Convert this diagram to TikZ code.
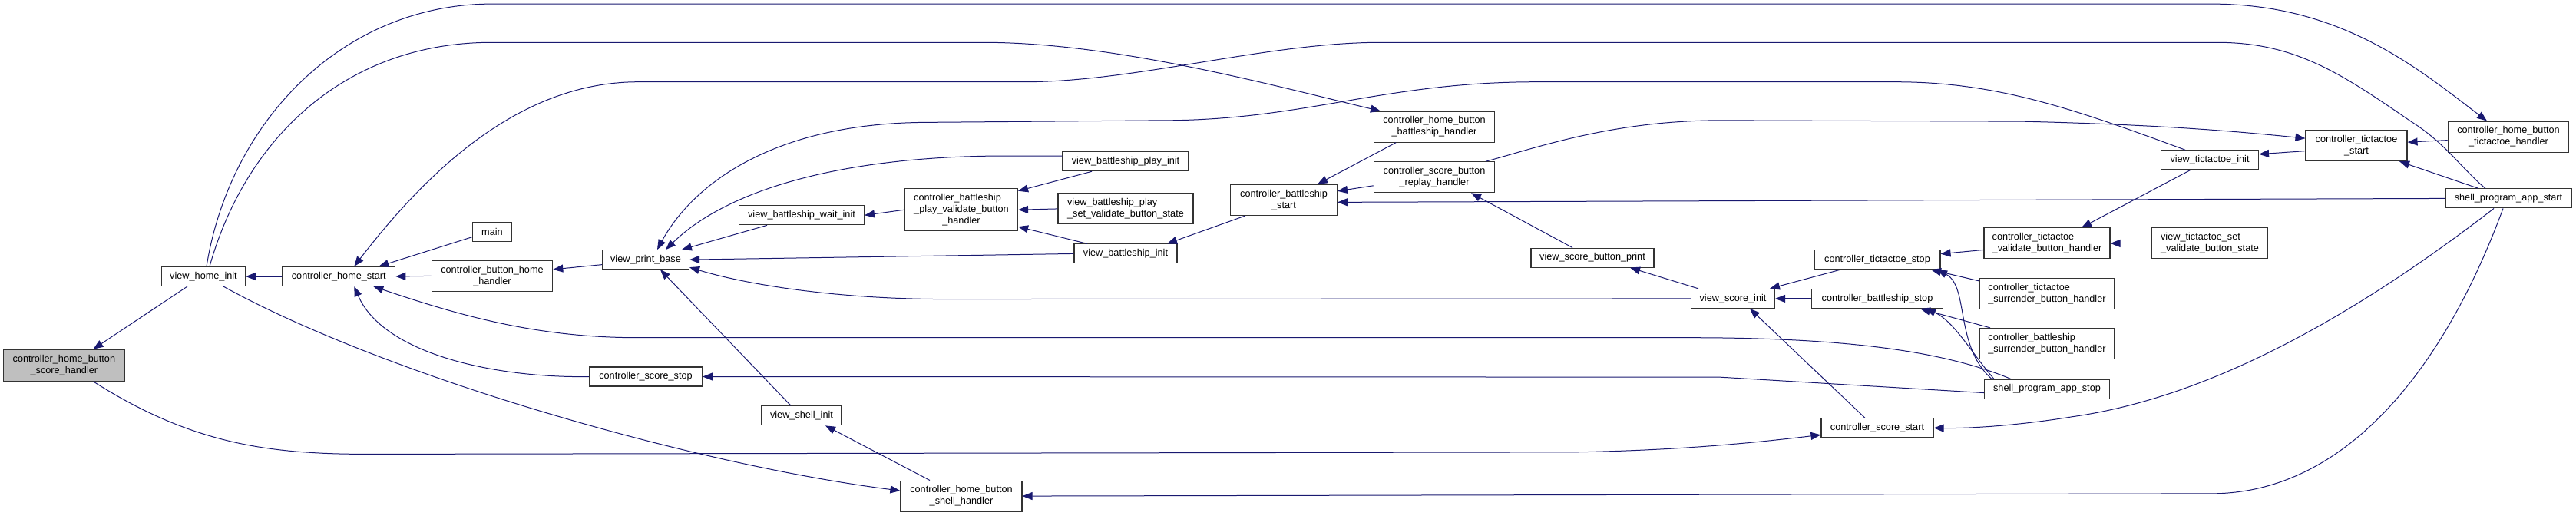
\documentclass[tikz,border=0pt]{standalone}
\usepackage{fontspec}
\setmainfont{Liberation Sans}
\usetikzlibrary{arrows.meta}
\definecolor{edgec}{HTML}{191970}
\definecolor{focal}{HTML}{BFBFBF}
\tikzset{
 nd/.style={draw=black!80, line width=1.1pt, fill=white, inner sep=0pt, minimum height=25pt, align=center, font=\fontsize{12.7}{15}\selectfont},
 nd2/.style={nd, minimum height=40pt},
 nd3/.style={nd, minimum height=55pt},
 ed/.style={draw=edgec, line width=1pt, -{Triangle[length=13pt,width=10pt]}},
}
\begin{document}
\begin{tikzpicture}[x=1pt,y=-1.285714pt]
\path[use as bounding box] (0,0) rectangle (3355,522.667);
% nodes
\node[nd, fill=focal, minimum width=158pt, minimum height=41pt] (sh) at (83.4,370) {controller\_home\_button\\\_score\_handler};
\node[nd, minimum width=109pt] (vhi) at (265,280) {view\_home\_init};
\node[nd, minimum width=147pt] (chs) at (441.3,280) {controller\_home\_start};
\node[nd, minimum width=51pt] (main) at (641,235) {main};
\node[nd2, minimum width=157.5pt] (cbhh) at (641,279.5) {controller\_button\_home\\\_handler};
\node[nd, minimum width=113pt] (vpb) at (841,263) {view\_print\_base};
\node[nd, minimum width=163pt] (vbwi) at (1044,218) {view\_battleship\_wait\_init};
\node[nd, minimum width=147pt] (css) at (841,381.5) {controller\_score\_stop};
\node[nd, minimum width=104pt] (vsi) at (1044,421) {view\_shell\_init};
\node[nd, minimum width=164pt] (vbpi) at (1466,163.5) {view\_battleship\_play\_init};
\node[nd3, minimum width=147pt] (cbpvbh) at (1252,212.5) {\begin{tabular}{@{}l@{}}controller\_battleship\\\_play\_validate\_button\\\multicolumn{1}{@{}c@{}}{\_handler}\end{tabular}};
\node[nd2, minimum width=176pt, align=left] (vbpsvbs) at (1466,211.5) {view\_battleship\_play\\\_set\_validate\_button\_state};
\node[nd, minimum width=134pt] (vbi) at (1466,257) {view\_battleship\_init};
\node[nd2, minimum width=139pt] (cbs) at (1672,202.5) {controller\_battleship\\\_start};
\node[nd2, minimum width=158pt] (chbsh) at (1252,502.5) {controller\_home\_button\\\_shell\_handler};
\node[nd2, minimum width=157.5pt] (chbbh) at (1868,128.5) {controller\_home\_button\\\_battleship\_handler};
\node[nd2, minimum width=157.5pt] (csbrh) at (1868,179.5) {controller\_score\_button\\\_replay\_handler};
\node[nd, minimum width=160pt] (vsbp) at (2074,261) {view\_score\_button\_print};
\node[nd, minimum width=109pt] (vsci) at (2257,302.5) {view\_score\_init};
\node[nd, minimum width=164pt] (cts) at (2445,263) {controller\_tictactoe\_stop};
\node[nd, minimum width=171pt] (cbst) at (2445,302.5) {controller\_battleship\_stop};
\node[nd2, minimum width=164pt, align=left] (ctvbh) at (2666,246.5) {controller\_tictactoe\\\_validate\_button\_handler};
\node[nd2, minimum width=175pt, align=left] (ctsbh) at (2666,297.5) {controller\_tictactoe\\\_surrender\_button\_handler};
\node[nd2, minimum width=175pt, align=left] (cbsbh) at (2666,348) {controller\_battleship\\\_surrender\_button\_handler};
\node[nd, minimum width=163pt] (spas) at (2666,394) {shell\_program\_app\_stop};
\node[nd, minimum width=146pt] (cscst) at (2445,433.5) {controller\_score\_start};
\node[nd2, minimum width=157.5pt] (chbth) at (3267,138.5) {controller\_home\_button\\\_tictactoe\_handler};
\node[nd2, minimum width=132pt] (ctst) at (3069,147.5) {controller\_tictactoe\\\_start};
\node[nd, minimum width=127pt] (vti) at (2878,162) {view\_tictactoe\_init};
\node[nd, minimum width=164pt] (spast) at (3267,201) {shell\_program\_app\_start};
\node[nd2, minimum width=151pt, align=left] (vtsvbs) at (2878,246.5) {view\_tictactoe\_set\\\_validate\_button\_state};
% edges
\draw[ed] ([xshift=-21pt]vhi.south) -- ([xshift=38pt]sh.north);
\draw[ed] (chs.west) -- (vhi.east);
\draw[ed] ([xshift=-30pt]spast.north) .. controls (3205,170) and (3185,145) .. (3140,123) .. controls (3050,75) and (2990,43) .. (2888,43) -- (1798,43) .. controls (1650,43) and (1480,83) .. (1334,83) -- (831,83) .. controls (680,83) and (560,170) .. ([xshift=20pt]chs.north);
\draw[ed] ([xshift=4pt]vhi.north) .. controls (300,120) and (450,4) .. (640,4) -- (2881,4) .. controls (3050,4) and (3150,70) .. ([xshift=-28pt]chbth.north);
\draw[ed] ([xshift=8pt]vhi.north) .. controls (320,140) and (450,43) .. (640,43) -- (1281,43) .. controls (1450,43) and (1650,85) .. ([xshift=-70pt]chbbh.north);
\draw[ed] ([xshift=-32pt]vti.north) .. controls (2700,110) and (2600,83) .. (2469,83) -- (2001,83) .. controls (1800,83) and (1700,122) .. (1513,122) -- (1200,124) .. controls (1000,126) and (900,190) .. ([xshift=15pt]vpb.north);
\draw[ed] ([xshift=67pt]csbrh.north) .. controls (2000,150) and (2100,122) .. (2240,122) -- (2633,123) .. controls (2800,126) and (2900,132) .. ([yshift=9.5pt]ctst.west);
\draw[ed] ([yshift=7pt]vbpi.west) -- (1290,158) .. controls (1100,160) and (950,190) .. ([xshift=26pt]vpb.north);
\draw[ed] ([xshift=-45pt]vbwi.south) -- ([xshift=47pt]vpb.north);
\draw[ed] (vbi.west) -- (vpb.east);
\draw[ed] (vsci.west) -- (1230,303) .. controls (1100,303) and (980,290) .. ([yshift=-10pt]vpb.east);
\draw[ed] ([xshift=-14pt]vsi.north) -- ([xshift=19pt]vpb.south);
\draw[ed] ([yshift=-6.5pt]vpb.west) -- ([yshift=8.5pt]cbhh.east);
\draw[ed] (cbhh.west) -- (chs.east);
\draw[ed] ([yshift=-6.5pt]main.west) -- ([xshift=52pt]chs.north);
\draw[ed] ([xshift=-47pt]spas.north) .. controls (2530,355) and (2400,342) .. (2200,342) -- (830,342) .. controls (700,342) and (600,320) .. ([xshift=45pt]chs.south);
\draw[ed] (css.west) .. controls (650,383) and (500,360) .. ([xshift=20pt]chs.south);
\draw[ed] ([yshift=-5pt]spas.west) -- (2240,382) -- (css.east);
\draw[ed] ([xshift=26pt]vhi.south) .. controls (500,380) and (900,470) .. ([yshift=7pt]chbsh.west);
\draw[ed] ([xshift=38pt]sh.south) .. controls (250,450) and (350,460) .. (480,460) -- (2050,458) .. controls (2200,456) and (2300,447) .. ([yshift=-9pt]cscst.west);
\draw[ed] ([xshift=-41pt]chbsh.north) -- ([xshift=31pt]vsi.south);
\draw[ed] ([xshift=-7pt]spast.south) .. controls (3180,380) and (3050,500) .. (2880,500) -- (chbsh.east);
\draw[ed] ([xshift=-19pt]spast.south) .. controls (3100,300) and (2900,400) .. (2700,422) .. controls (2620,432) and (2560,434) .. (cscst.east);
\draw[ed] (spast.west) -- ([yshift=-3pt]cbs.east);
\draw[ed] ([yshift=-11pt]csbrh.west) -- ([yshift=11.5pt]cbs.east);
\draw[ed] ([xshift=-50pt]chbbh.south) -- ([xshift=44pt]cbs.north);
\draw[ed] ([xshift=-50pt]cbs.south) -- ([xshift=54pt]vbi.north);
\draw[ed] ([xshift=-44pt]vbpi.south) -- ([yshift=24.5pt]cbpvbh.east);
\draw[ed] (vbpsvbs.west) -- (cbpvbh.east);
\draw[ed] ([xshift=-50pt]vbi.north) -- ([yshift=-22pt]cbpvbh.east);
\draw[ed] (cbpvbh.west) -- (vbwi.east);
\draw[ed] ([xshift=-45pt]vsci.north) -- ([xshift=49pt]vsbp.south);
\draw[ed] ([xshift=-26pt]vsbp.north) -- ([xshift=48pt]csbrh.south);
\draw[ed] (cbst.west) -- (vsci.east);
\draw[ed] ([xshift=-48pt]cts.south) -- ([xshift=48pt]vsci.north);
\draw[ed] ([xshift=-16pt]cscst.north) -- ([xshift=22pt]vsci.south);
\draw[ed] ([yshift=-8.5pt]ctvbh.west) -- ([yshift=7.5pt]cts.east);
\draw[ed] ([yshift=16.5pt]ctsbh.west) -- ([xshift=70pt]cts.south);
\draw[ed] ([xshift=-72pt]spas.north) .. controls (2545,350) and (2565,290) .. ([xshift=78pt]cts.south);
\draw[ed] ([xshift=-74pt]cbsbh.north) -- ([xshift=56pt]cbst.south);
\draw[ed] ([xshift=-69pt]spas.north) .. controls (2570,360) and (2545,325) .. ([xshift=63pt]cbst.south);
\draw[ed] ([xshift=-25pt]vti.south) -- ([xshift=45pt]ctvbh.north);
\draw[ed] (vtsvbs.west) -- (ctvbh.east);
\draw[ed] ([yshift=-7pt]ctst.west) -- ([yshift=7.5pt]vti.east);
\draw[ed] ([yshift=-4.5pt]chbth.west) -- ([yshift=4.5pt]ctst.east);
\draw[ed] ([xshift=-39pt]spast.north) -- ([xshift=56pt]ctst.south);
\end{tikzpicture}
\end{document}
